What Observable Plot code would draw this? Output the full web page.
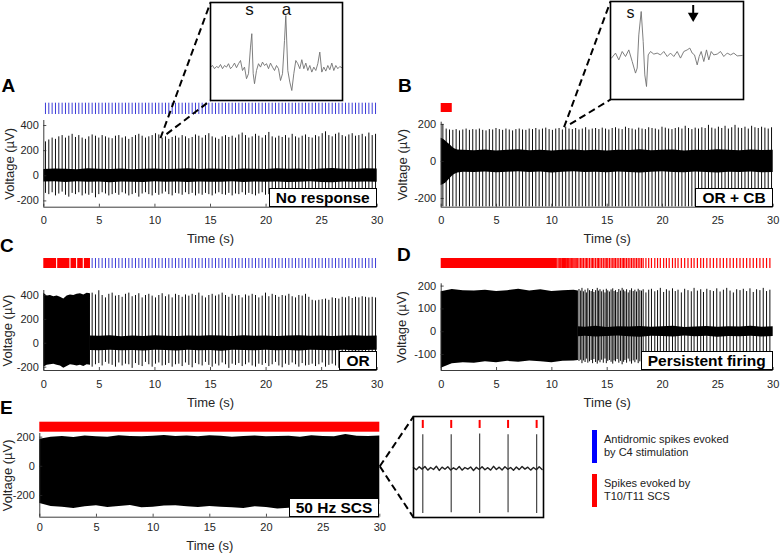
<!DOCTYPE html>
<html><head><meta charset="utf-8">
<script src="https://cdn.jsdelivr.net/npm/d3@7"></script>
<script src="https://cdn.jsdelivr.net/npm/@observablehq/plot@0.6"></script>
<style>
body{margin:0;background:#fff;}
#fig{position:relative;width:780px;height:554px;overflow:hidden;font-family:"Liberation Sans",Arial,sans-serif;background:#fff;}
#fig svg{position:absolute;}
.letter{position:absolute;font-weight:bold;font-size:19px;line-height:1;color:#000;}
.tag{position:absolute;background:#fff;border:1.5px solid #000;font-weight:bold;font-size:15.5px;line-height:17px;padding:0 6px;white-space:nowrap;color:#000;}
.lbar{position:absolute;width:5px;height:33px;}
.ltext{position:absolute;font-size:11px;line-height:13.3px;color:#222;white-space:nowrap;}
</style></head><body><div id="fig"></div>
<script>
// ---------------- DATA ----------------
const timeTicks = [0, 5, 10, 15, 20, 25, 30];
const yTicksA = [-200, 0, 200, 400];
const yTicksB = [-200, 0, 200];
const yTicksC = [-200, 0, 200, 400];
const yTicksD = [-100, 0, 100, 200];
const yTicksE = [-200, 0, 200];

// C4 antidromic stimulation times (s)
const c4StimTimes = [0.15,0.45,0.75,1.05,1.35,1.65,1.95,2.25,2.55,2.85,
3.15,3.45,3.75,4.05,4.35,4.65,4.95,5.25,5.55,5.85,
6.15,6.45,6.75,7.05,7.35,7.65,7.95,8.25,8.55,8.85,
9.15,9.45,9.75,10.05,10.35,10.65,10.95,11.25,11.55,11.85,
12.15,12.45,12.75,13.05,13.35,13.65,13.95,14.25,14.55,14.85,
15.15,15.45,15.75,16.05,16.35,16.65,16.95,17.25,17.55,17.85,
18.15,18.45,18.75,19.05,19.35,19.65,19.95,20.25,20.55,20.85,
21.15,21.45,21.75,22.05,22.35,22.65,22.95,23.25,23.55,23.85,
24.15,24.45,24.75,25.05,25.35,25.65,25.95,26.25,26.55,26.85,
27.15,27.45,27.75,28.05,28.35,28.65,28.95,29.25,29.55,29.85];

const noiseTimes = [0,1,2,3,4,5,6,7,8,9,10,11,12,13,14,15,16,17,18,19,20,21,22,23,24,25,26,27,28,29,30];

// Panel A (No response)
const aSpikePeaks = [270,285,300,290,310,320,300,315,330,305,
320,300,290,310,325,315,300,320,310,300,
295,315,320,300,310,290,305,320,330,315,
300,310,320,335,325,300,310,290,305,315,
300,320,310,295,305,325,315,300,320,335,
310,300,290,310,320,305,315,300,325,340,
320,300,310,330,315,300,320,345,310,300,
315,305,320,300,330,310,300,315,325,305,
300,320,310,335,350,320,310,330,340,320,
310,325,335,315,320,330,310,340,320,330];
const aSpikeTroughs = [-140,-150,-135,-160,-145,-130,-155,-170,-140,-150,
-135,-160,-145,-155,-140,-175,-150,-135,-145,-160,
-150,-140,-155,-135,-145,-160,-150,-140,-170,-145,
-135,-150,-160,-140,-155,-145,-130,-150,-160,-140,
-145,-155,-135,-150,-140,-160,-145,-155,-140,-150,
-160,-145,-135,-150,-155,-140,-160,-145,-150,-135,
-155,-140,-150,-160,-145,-135,-155,-150,-140,-160,
-145,-150,-135,-155,-160,-140,-150,-145,-155,-140,
-150,-160,-145,-135,-155,-150,-140,-160,-145,-150,
-155,-140,-150,-160,-145,-155,-140,-150,-160,-145];
const aNoiseUpper = [50,55,52,48,56,53,50,54,49,52,55,51,53,57,50,54,52,48,55,53,50,56,52,54,49,55,58,53,51,56,54];
const aNoiseLower = [-50,-48,-53,-47,-52,-50,-55,-49,-51,-53,-48,-52,-50,-54,-49,-52,-51,-47,-53,-50,-52,-49,-54,-51,-48,-53,-55,-50,-52,-49,-51];

// Panel B (OR + CB)
const bSpikePeaks = [200,175,170,168,172,165,170,175,168,172,
170,175,168,165,172,170,178,172,168,175,
170,165,172,175,170,168,175,172,178,170,
175,180,172,168,175,178,170,185,175,172,
178,170,175,182,170,175,178,172,180,175,
170,178,182,175,172,185,178,175,170,180,
175,172,182,178,175,170,185,180,175,172,
178,182,175,190,178,172,180,175,182,178,
195,180,175,185,178,190,175,182,195,180,
178,185,175,190,182,178,185,180,175,182];
const bSpikeFloor = -245;
const bNoiseTimes = [0,0.2,0.4,0.6,0.8,1,1.2,1.5,2,3,4,5,6,7,8,9,10,11,12,13,14,15,16,17,18,19,20,21,22,23,24,25,26,27,28,29,30];
const bNoiseUpper = [125,120,110,100,90,78,68,62,60,58,62,57,60,63,58,61,56,60,62,58,60,57,61,59,63,58,60,62,57,61,59,63,60,58,62,59,61];
const bNoiseLower = [-130,-125,-118,-105,-92,-80,-70,-62,-58,-60,-57,-61,-58,-55,-60,-57,-62,-58,-56,-60,-58,-61,-57,-59,-62,-58,-56,-60,-61,-57,-59,-62,-58,-60,-57,-61,-59];
const bRedStart = [0];
const bRedEnd = [1.0];

// Panel C (OR)
const cSpikePeaks = [400,410,395,405,400,410,395,400,405,410,
400,405,410,400,420,405,440,400,380,410,
420,395,400,385,410,420,390,400,415,380,
400,410,395,380,400,415,390,405,380,410,
400,385,405,395,410,400,420,395,380,400,
410,395,405,420,400,385,410,395,400,380,
405,395,410,400,380,395,420,390,410,400,
385,400,395,410,390,380,400,395,410,385,
360,355,360,365,370,360,380,375,370,385,
380,390,375,385,380,390,385,380,385,380];
const cSpikeTroughs = [-180,-185,-190,-180,-185,-190,-180,-185,-190,-180,
-185,-190,-180,-185,-200,-180,-170,-190,-160,-175,
-185,-200,-165,-190,-175,-180,-210,-170,-185,-195,
-160,-180,-200,-175,-165,-190,-185,-170,-200,-180,
-175,-195,-165,-185,-205,-170,-180,-190,-160,-185,
-200,-175,-190,-165,-180,-210,-175,-185,-170,-195,
-180,-165,-190,-200,-175,-185,-170,-195,-180,-160,
-190,-205,-175,-185,-165,-180,-200,-170,-190,-185,
-175,-195,-180,-165,-200,-185,-175,-190,-210,-180,
-170,-185,-195,-175,-190,-180,-200,-185,-175,-190];
const cBurstTimes = [0,0.3,0.6,0.9,1.2,1.5,1.8,2.1,2.4,2.7,3.0,3.3,3.6,3.9,4.2];
const cBurstUpper = [420,395,400,390,395,385,370,395,405,400,410,415,405,420,415];
const cBurstLower = [-200,-185,-180,-175,-185,-190,-210,-195,-180,-185,-190,-185,-195,-180,-185];
const cNoiseTimes = [4.2,5,6,7,8,9,10,11,12,13,14,15,16,17,18,19,20,21,22,23,24,25,26,27,28,29,30];
const cNoiseUpper = [60,58,62,55,60,57,63,59,56,61,58,62,60,57,64,59,61,56,60,63,58,61,57,60,62,58,60];
const cNoiseLower = [-60,-62,-58,-63,-60,-65,-58,-61,-64,-59,-62,-60,-66,-58,-61,-63,-59,-62,-60,-64,-58,-61,-63,-59,-62,-60,-58];
const cRedStart = [0,1.25,2.45,3.05,3.65];
const cRedEnd = [1.15,2.35,2.95,3.55,4.2];
const cBlueAfter = 4.2;

// Panel D (Persistent firing)
const dBurstTimes = [0,1,2,3,4,5,6,7,8,9,10,11,12,12.4];
const dBurstUpper = [175,185,180,178,182,176,180,186,178,184,176,180,182,178];
const dBurstLower = [-160,-140,-136,-138,-132,-136,-130,-134,-128,-132,-136,-130,-128,-126];
const dNoiseTimes = [12.4,13,14,15,16,17,18,19,20,21,22,23,24,25,26,27,28,29,30];
const dNoiseUpper = [22,20,24,19,22,21,23,20,22,24,19,21,23,20,22,21,24,20,22];
const dNoiseLower = [-22,-20,-23,-21,-19,-22,-24,-20,-21,-23,-19,-22,-20,-24,-21,-22,-20,-23,-21];
const dSpikeTimes = [12.45,12.6,12.72,12.85,13.0,13.12,13.25,13.4,13.55,13.68,
13.8,13.95,14.1,14.22,14.35,14.5,14.65,14.8,14.92,15.05,
15.2,15.35,15.5,15.62,15.75,15.9,16.05,16.2,16.35,16.48,
16.6,16.75,16.9,17.05,17.2,17.35,17.5,17.65,17.8,17.95,
18.1,18.25,
18.5,18.75,19.0,19.3,19.55,19.8,20.1,20.35,20.6,20.9,
21.15,21.4,21.7,22.0,22.3,22.6,22.85,23.15,23.45,23.7,
24.0,24.3,24.6,24.9,25.2,25.5,25.8,26.1,26.4,26.7,
27.0,27.3,27.6,27.9,28.2,28.5,28.8,29.1,29.4,29.7];
const dSpikePeaks = [185,178,190,175,182,170,188,180,176,185,
172,180,190,178,184,175,182,170,186,179,
174,183,188,176,180,172,185,178,190,182,
175,184,170,180,188,176,182,174,186,180,
178,184,
170,182,186,175,180,190,172,184,178,188,
176,182,170,186,180,175,190,178,184,172,
186,180,176,188,174,182,190,178,170,184,
180,186,176,188,172,184,180,190,176,182];
const dSpikeTroughs = [-130,-125,-140,-128,-135,-120,-138,-132,-126,-140,
-122,-135,-142,-128,-136,-125,-138,-120,-140,-130,
-126,-134,-142,-128,-132,-122,-138,-130,-145,-134,
-126,-138,-120,-132,-142,-128,-136,-124,-140,-132,
-130,-136,
-125,-135,-140,-128,-132,-142,-122,-138,-130,-140,
-128,-134,-120,-138,-132,-126,-142,-130,-136,-122,
-138,-132,-128,-140,-124,-134,-142,-130,-120,-136,
-132,-138,-126,-140,-122,-136,-130,-142,-128,-134];
const dRedSolidStart = [0];
const dRedSolidEnd = [10.5];
const dRedExtraTimes = [10.55,10.65,10.72,10.8,10.9,10.97,11.05,11.15,11.22,11.3,11.4,11.48,11.55,11.65,11.75,11.82,11.9,12.0,12.1,12.2,12.3];

// Panel E (50 Hz SCS)
const eNoiseUpper = [185,200,205,198,208,203,200,210,205,202,207,212,205,208,203,210,206,200,204,208,202,205,207,200,210,205,203,218,207,205,208];
const eNoiseLower = [-255,-275,-280,-290,-278,-270,-282,-275,-268,-285,-280,-272,-270,-278,-282,-275,-280,-285,-290,-278,-283,-292,-288,-270,-275,-268,-262,-270,-265,-268,-262];
const eRedStart = [0];
const eRedEnd = [30];

// Inset A (s = stimulus-evoked, a = antidromic), time in ms
const insetATime = [0,0.2,0.4,0.6,0.8,1.0,1.2,1.4,1.6,1.8,
2.0,2.2,2.4,2.6,2.8,3.0,3.2,3.4,3.6,3.8,
4.0,4.13,4.27,4.4,4.6,4.8,5.0,5.2,5.4,5.6,
5.8,6.0,6.2,6.4,6.6,6.8,7.0,7.2,7.4,7.53,
7.73,7.93,8.13,8.33,8.53,8.73,8.93,9.13,9.33,9.53,
9.73,9.93,10.13,10.33,10.53,10.73,10.93,11.13,11.33,11.53,
11.73,11.93,12.13,12.33,12.53,12.73,12.93,13.13];
const insetAValue = [0,8,-8,3,-3,13,-8,8,0,17,
-8,3,20,-3,17,33,-17,0,-58,-33,
100,167,-33,-83,-17,17,0,25,8,17,
-8,20,0,-17,8,-8,-67,-33,133,258,
-17,-75,-117,-33,33,17,-8,37,-8,20,
-17,8,-25,0,-17,17,75,-25,0,-20,
8,-13,20,-17,8,-8,3,-3];
const insetALabels = ["s", "a"];
const insetALabelTimes = [3.9, 7.6];

// Inset B
const insetBTime = [0.1,0.5,0.83,1.17,1.5,1.83,2.17,2.5,2.67,2.83,
3.07,3.27,3.43,3.6,3.77,4.0,4.33,4.67,5.0,5.33,
5.67,6.0,6.33,6.67,7.0,7.33,7.67,7.93,8.17,8.4,
8.67,8.87,9.07,9.33,9.6,9.83,10.07,10.33,10.67,11.0,
11.33,11.67,12.0,12.33,12.67,13.17];
const insetBValue = [-13,12,-22,20,-5,28,-30,-88,-63,103,
220,70,-97,-155,3,20,7,12,3,20,
-5,12,-5,20,-13,20,28,37,12,3,
-47,-5,20,-30,28,-22,20,3,7,20,
-5,12,3,12,-2,0];
const insetBLabels = ["s"];
const insetBLabelTimes = [2.0];
const insetBArrowTime = [8.27];

// Inset E (50 Hz detail), time in ms
const eInsetSpikeTimes = [6.5, 26.4, 46.3, 66.2, 86.2];
const eInsetPeaks = [205, 205, 210, 205, 205];
const eInsetTroughs = [-275, -270, -275, -270, -275];
const eInsetNoiseTimes = [0,2,4,6,8,10,12,14,16,18,20,22,24,26,28,30,32,34,36,38,40,42,44,46,48,50,52,54,56,58,60,62,64,66,68,70,72,74,76,78,80,82,84,86,88,90];
const eInsetNoise = [5,-8,10,-4,12,-10,6,-6,14,-12,8,-5,10,-9,4,-7,12,-10,6,-4,9,-12,7,-6,11,-8,5,-10,13,-6,8,-9,10,-5,6,-11,9,-7,12,-4,8,-10,6,-8,10,-6];

// Zoom source points (time s, µV)
const zoomA = {t: 10.5, v: 300};
const zoomB = {t: 11.1, v: 185};
const zoomE = {t: 30, v: 0};

// ---------------- LAYOUT / STYLE ----------------
const FONT = '"Liberation Sans", Arial, sans-serif';
const AXIS = "#262626";
const BLUE = "#3c3cd8";
const RED = "#ff0000";
const fig = document.getElementById("fig");

const gA = {left:0, top:95, width:390, height:153, fx0:43.3, fx1:376.7, fy0:120, fy1:206.7, bandGap:6, bandH:11.3, xPad:9.3, xLabelDy:31.3, yLabelDx:-33.8};
const gB = {left:390, top:95, width:390, height:153, fx0:440.7, fx1:772.7, fy0:121.7, fy1:206.7, bandGap:9.7, bandH:9, xPad:9.3, xLabelDy:31.3, yLabelDx:-38.7};
const gC = {left:0, top:250, width:390, height:160, fx0:43.3, fx1:376.7, fy0:290, fy1:370, bandGap:22, bandH:10, xPad:10, xLabelDy:32.7, yLabelDx:-35.8};
const gD = {left:390, top:250, width:390, height:160, fx0:440.7, fx1:772.7, fy0:283.3, fy1:370, bandGap:15.3, bandH:10, xPad:10, xLabelDy:32.7, yLabelDx:-39};
const gE = {left:0, top:415, width:400, height:139, fx0:39.3, fx1:379.3, fy0:433, fy1:516.7, bandGap:1.3, bandH:10, xPad:6, xLabelDy:28.3, yLabelDx:-31.8};

function place(el, left, top) {
  el.style.left = left + "px"; el.style.top = top + "px";
  fig.appendChild(el);
  return el;
}

function panel(g, yDomain, yTicks, marksFn) {
  const fw = g.fx1 - g.fx0, fh = g.fy1 - g.fy0;
  const band = {insetTop: -(g.bandGap + g.bandH), insetBottom: fh + g.bandGap};
  const chart = Plot.plot({
    width: g.width, height: g.height,
    marginLeft: g.fx0 - g.left, marginRight: g.left + g.width - g.fx1,
    marginTop: g.fy0 - g.top, marginBottom: g.top + g.height - g.fy1,
    x: {domain: [0, 30], ticks: timeTicks, tickSize: 0, tickPadding: g.xPad, tickFormat: d => String(d), label: null},
    y: {domain: yDomain, ticks: yTicks, tickSize: 0, tickPadding: 5, tickFormat: d => String(d), label: null},
    style: {background: "transparent", overflow: "visible", fontFamily: FONT, fontSize: "11px", color: AXIS},
    marks: [
      ...marksFn(band),
      Plot.ruleX(timeTicks, {x: d => d, insetTop: fh - 3, stroke: AXIS, strokeWidth: 0.8}),
      Plot.ruleY(yTicks, {y: d => d, insetRight: fw - 3, stroke: AXIS, strokeWidth: 0.8}),
      Plot.ruleX([0], {stroke: AXIS, strokeWidth: 0.9}),
      Plot.ruleY([yDomain[0]], {stroke: AXIS, strokeWidth: 0.9}),
      Plot.text(["Time (s)"], {text: d => d, frameAnchor: "bottom", dy: g.xLabelDy, lineAnchor: "middle", fontSize: 13, fill: AXIS}),
      Plot.text(["Voltage (µV)"], {text: d => d, frameAnchor: "left", dx: g.yLabelDx, rotate: -90, textAnchor: "middle", fontSize: 13, fill: AXIS})
    ]
  });
  return place(chart, g.left, g.top);
}

const envelope = (times, lo, hi) => times.map((t, i) => ({t, lo: lo[i], hi: hi[i]}));
const spikes = (times, lo, hi) => times.map((t, i) => ({t, lo: Array.isArray(lo) ? lo[i] : lo, hi: hi[i]}));
const spans = (s, e) => s.map((x1, i) => ({x1, x2: e[i]}));

const traceArea = (data) => Plot.areaY(data, {x: "t", y1: "lo", y2: "hi", fill: "#000"});
const traceSpikes = (data) => Plot.ruleX(data, {x: "t", y1: "lo", y2: "hi", stroke: "#000", strokeWidth: 0.95});

// Panel A
const chartA = panel(gA, [-250, 440], yTicksA, band => [
  Plot.ruleX(c4StimTimes, {x: d => d, ...band, stroke: BLUE, strokeWidth: 1}),
  traceArea(envelope(noiseTimes, aNoiseLower, aNoiseUpper)),
  traceSpikes(spikes(c4StimTimes, aSpikeTroughs, aSpikePeaks))
]);
// Panel B
const chartB = panel(gB, [-247, 212], yTicksB, band => [
  Plot.rect(spans(bRedStart, bRedEnd), {x1: "x1", x2: "x2", ...band, fill: RED}),
  traceArea(envelope(bNoiseTimes, bNoiseLower, bNoiseUpper)),
  traceSpikes(spikes(c4StimTimes, bSpikeFloor, bSpikePeaks))
]);
// Panel C
const chartC = panel(gC, [-228, 442], yTicksC, band => [
  Plot.ruleX(c4StimTimes.filter(t => t > cBlueAfter), {x: d => d, ...band, stroke: BLUE, strokeWidth: 1}),
  Plot.rect(spans(cRedStart, cRedEnd), {x1: "x1", x2: "x2", ...band, fill: RED}),
  traceArea(envelope(cNoiseTimes, cNoiseLower, cNoiseUpper)),
  traceSpikes(spikes(c4StimTimes, cSpikeTroughs, cSpikePeaks).filter(d => d.t > cBlueAfter)),
  traceArea(envelope(cBurstTimes, cBurstLower, cBurstUpper))
]);
// Panel D
const chartD = panel(gD, [-170, 210], yTicksD, band => [
  Plot.rect(spans(dRedSolidStart, dRedSolidEnd), {x1: "x1", x2: "x2", ...band, fill: RED}),
  Plot.ruleX(dRedExtraTimes.concat(dSpikeTimes), {x: d => d, ...band, stroke: RED, strokeWidth: 1.2}),
  traceArea(envelope(dNoiseTimes, dNoiseLower, dNoiseUpper)),
  traceArea(envelope(dBurstTimes, dBurstLower, dBurstUpper)),
  traceSpikes(spikes(dSpikeTimes, dSpikeTroughs, dSpikePeaks))
]);
// Panel E
const chartE = panel(gE, [-349, 225], yTicksE, band => [
  Plot.rect(spans(eRedStart, eRedEnd), {x1: "x1", x2: "x2", ...band, fill: RED}),
  traceArea(envelope(noiseTimes, eNoiseLower, eNoiseUpper))
]);

// Insets
const iA = {left:210, top:2, width:132, height:98};
const iB = {left:610, top:1, width:133, height:98};
const iE = {left:413, top:416, width:130, height:101};

function inset(g, xDomain, yDomain, marks) {
  const chart = Plot.plot({
    width: g.width, height: g.height, margin: 0,
    x: {domain: xDomain, axis: null}, y: {domain: yDomain, axis: null},
    style: {background: "#fff", overflow: "visible", fontFamily: FONT},
    marks: [...marks, Plot.frame({stroke: "#000", strokeWidth: 1.6})]
  });
  return chart;
}

const traceA = insetATime.map((t, i) => ({t, v: insetAValue[i]}));
const traceB = insetBTime.map((t, i) => ({t, v: insetBValue[i]}));
const insetAChart = inset(iA, [0, 13.2], [-167, 323], [
  Plot.line(traceA, {x: "t", y: "v", stroke: "#707070", strokeWidth: 0.9}),
  Plot.text(insetALabels, {x: (d, i) => insetALabelTimes[i], y: 290, text: d => d, fontSize: 17, fill: "#111"})
]);
const insetBChart = inset(iB, [0, 13.3], [-220, 270], [
  Plot.line(traceB, {x: "t", y: "v", stroke: "#707070", strokeWidth: 0.9}),
  Plot.text(insetBLabels, {x: (d, i) => insetBLabelTimes[i], y: 215, text: d => d, fontSize: 16, fill: "#111"}),
  Plot.ruleX(insetBArrowTime, {x: d => d, y1: 205, y2: 250, stroke: "#000", strokeWidth: 2}),
  Plot.dot(insetBArrowTime, {x: d => d, y: 198, symbol: "triangle", r: 4, rotate: 180, fill: "#000", stroke: "none"})
]);
const eInsetNoiseData = eInsetNoiseTimes.map((t, i) => ({t, v: eInsetNoise[i]}));
const eInsetSpikes = eInsetSpikeTimes.map((t, i) => ({t, lo: eInsetTroughs[i], hi: eInsetPeaks[i]}));
const insetEChart = inset(iE, [0, 91], [-299, 317], [
  Plot.ruleX(eInsetSpikeTimes, {x: d => d, y1: 244, y2: 293, stroke: RED, strokeWidth: 2}),
  Plot.ruleX(eInsetSpikes, {x: "t", y1: "lo", y2: "hi", stroke: "#444", strokeWidth: 1.2}),
  Plot.line(eInsetNoiseData, {x: "t", y: "v", stroke: "#222", strokeWidth: 1.4})
]);

// Connectors (derived from the panel scales and the inset boxes)
function pagePt(chart, g, p) {
  return {x: g.left + chart.scale("x").apply(p.t), y: g.top + chart.scale("y").apply(p.v)};
}
const pA = pagePt(chartA, gA, zoomA), pB = pagePt(chartB, gB, zoomB), pE = pagePt(chartE, gE, zoomE);
const connectors = [
  {x1: pA.x, y1: pA.y, x2: iA.left, y2: iA.top},
  {x1: pA.x + 6, y1: pA.y - 4, x2: iA.left, y2: iA.top + iA.height},
  {x1: pB.x, y1: pB.y, x2: iB.left, y2: iB.top},
  {x1: pB.x + 6, y1: pB.y - 3, x2: iB.left, y2: iB.top + iB.height},
  {x1: pE.x, y1: pE.y, x2: iE.left, y2: iE.top},
  {x1: pE.x, y1: pE.y, x2: iE.left, y2: iE.top + iE.height}
];
const overlay = Plot.plot({
  width: 780, height: 554, margin: 0,
  x: {domain: [0, 780], range: [0, 780], axis: null},
  y: {domain: [0, 554], range: [0, 554], axis: null},
  style: {background: "transparent", overflow: "visible"},
  marks: [Plot.link(connectors, {x1: "x1", y1: "y1", x2: "x2", y2: "y2", stroke: "#000", strokeWidth: 2, strokeDasharray: "7,4"})]
});
place(overlay, 0, 0);
place(insetAChart, iA.left, iA.top);
place(insetBChart, iB.left, iB.top);
place(insetEChart, iE.left, iE.top);

// Condition tags (anchored at each frame's bottom-right corner)
function tag(text, g) {
  const d = document.createElement("div");
  d.className = "tag"; d.textContent = text;
  d.style.right = (780 - g.fx1) + "px"; d.style.bottom = (554 - g.fy1) + "px";
  fig.appendChild(d);
}
tag("No response", gA);
tag("OR + CB", gB);
tag("OR", gC);
tag("Persistent firing", gD);
tag("50 Hz SCS", gE);

// Panel letters
const letters = [["A", 1.5, 75.5], ["B", 398, 75.5], ["C", 0, 236], ["D", 397, 244.5], ["E", 0, 397.5]];
letters.forEach(([t, x, y]) => {
  const d = document.createElement("div"); d.className = "letter"; d.textContent = t; place(d, x, y);
});

// Legend
const legendItems = [
  {color: "#0000ff", lines: ["Antidromic spikes evoked", "by C4 stimulation"], top: 430},
  {color: RED, lines: ["Spikes evoked by", "T10/T11 SCS"], top: 474}
];
legendItems.forEach(it => {
  const b = document.createElement("div"); b.className = "lbar"; b.style.background = it.color; place(b, 592, it.top);
  const t = document.createElement("div"); t.className = "ltext";
  it.lines.forEach((l, i) => { if (i) t.appendChild(document.createElement("br")); t.appendChild(document.createTextNode(l)); });
  place(t, 604, it.top + 3);
});
</script></body></html>
